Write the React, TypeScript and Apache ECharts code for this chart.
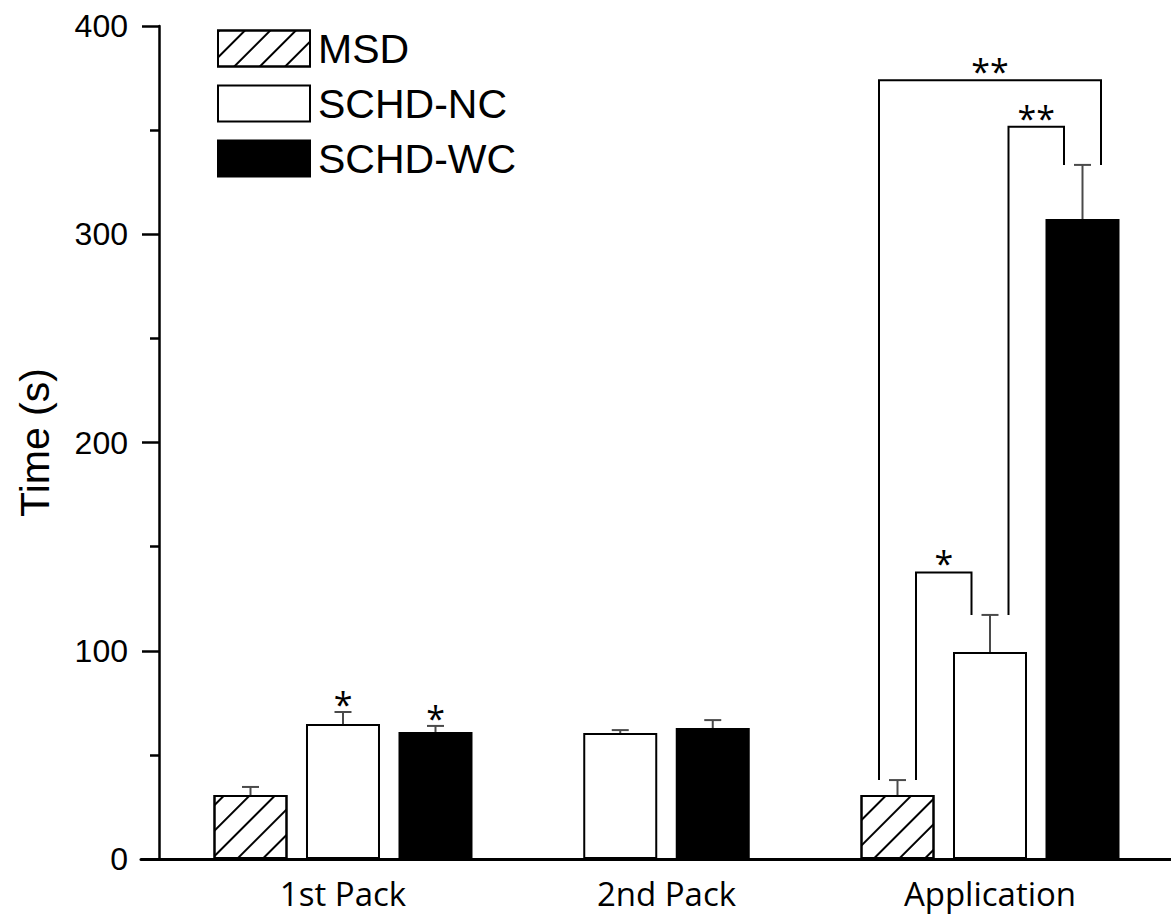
import React, { useEffect, useRef } from "react";
import * as echarts from "echarts";

// ---- data ----
const categories = ["1st Pack", "2nd Pack", "Application"];
const seriesNames = ["MSD", "SCHD-NC", "SCHD-WC"];

const msdMean: (number | null)[] = [30.7, null, 30.7];
const msdErr: (number | null)[] = [3.9, null, 7.2];
const ncMean: (number | null)[] = [64.8, 60.5, 99.4];
const ncErr: (number | null)[] = [5.8, 1.4, 17.8];
const wcMean: (number | null)[] = [61.0, 62.9, 307.3];
const wcErr: (number | null)[] = [2.9, 3.8, 26.0];

// significance marks drawn above individual bars (vs. MSD)
const msdMarks = ["", "", ""];
const ncMarks = ["*", "", ""];
const wcMarks = ["*", "", ""];

// bracket comparisons: group, from series, to series, bracket height (s), label, outer legs
const brackets = [
  { group: "Application", from: "MSD", to: "SCHD-WC", top: 374, label: "**", outer: true },
  { group: "Application", from: "SCHD-NC", to: "SCHD-WC", top: 351.6, label: "**", outer: false },
  { group: "Application", from: "MSD", to: "SCHD-NC", top: 137.6, label: "*", outer: false },
];

const yTicks = [0, 100, 200, 300, 400];

// ---- styling ----
const BAR_W = 74;
const GAP_RATIO = 0.25;
const PITCH = BAR_W * (1 + GAP_RATIO);
const LEG_OFF = PITCH * 0.2;
const X_MIN = 0.3756;
const X_MAX = 3.5595;
const STAR_FONT = '34px "Open Sans"';

const hatch = {
  symbol: "rect",
  symbolSize: 1,
  dashArrayX: [1, 0],
  dashArrayY: [1.6, 15.7],
  rotation: -Math.PI / 4,
  color: "#000",
};

const fills = [
  { color: "#fff", borderColor: "#000", borderWidth: 2, decal: hatch },
  { color: "#fff", borderColor: "#000", borderWidth: 2 },
  { color: "#000", borderColor: "#000", borderWidth: 2 },
];

const means = [msdMean, ncMean, wcMean];
const errs = [msdErr, ncErr, wcErr];
const marks = [msdMarks, ncMarks, wcMarks];

function presentIn(g: number) {
  const p: number[] = [];
  for (let s = 0; s < seriesNames.length; s++) if (means[s][g] != null) p.push(s);
  return p;
}
function offsetOf(g: number, s: number) {
  const p = presentIn(g);
  const k = p.indexOf(s);
  return (k - (p.length - 1) / 2) * PITCH;
}

export default function App() {
  const ref = useRef<HTMLDivElement>(null);
  useEffect(() => {
    if (!ref.current) return;
    const chart = echarts.init(ref.current, null, { renderer: "svg" });

    const series: any[] = [];
    // axis 0: groups with all series present; axis 1: groups with missing series
    for (let axis = 0; axis < 2; axis++) {
      for (let s = 0; s < seriesNames.length; s++) {
        const data: any[] = [];
        categories.forEach((_, g) => {
          const full = presentIn(g).length === seriesNames.length;
          if ((axis === 0) === full && means[s][g] != null) data.push([g + 1, means[s][g]]);
        });
        if (!data.length) continue;
        series.push({
          type: "bar",
          name: seriesNames[s],
          xAxisIndex: axis,
          yAxisIndex: 0,
          barWidth: BAR_W,
          barGap: GAP_RATIO * 100 + "%",
          itemStyle: fills[s],
          emphasis: { disabled: true },
          data,
          z: 2,
        });
      }
    }

    const errItems: any[] = [];
    categories.forEach((_, g) => {
      presentIn(g).forEach((s) => {
        errItems.push({ x: g + 1, mean: means[s][g], err: errs[s][g], off: offsetOf(g, s), mark: marks[s][g] });
      });
    });

    series.push({
      type: "custom",
      name: "err",
      xAxisIndex: 0,
      yAxisIndex: 0,
      z: 3,
      silent: true,
      data: errItems.map((e) => [e.x, e.mean, e.err]),
      encode: { x: 0, y: 1 },
      renderItem: (params: any, api: any) => {
        const e = errItems[params.dataIndex];
        const b = api.coord([e.x, e.mean]);
        const t = api.coord([e.x, e.mean + e.err]);
        const cx = b[0] + e.off;
        const children: any[] = [
          { type: "line", shape: { x1: cx, y1: b[1], x2: cx, y2: t[1] }, style: { stroke: "#4a4a4a", lineWidth: 2 } },
          { type: "line", shape: { x1: cx - 8.5, y1: t[1], x2: cx + 8.5, y2: t[1] }, style: { stroke: "#4a4a4a", lineWidth: 2 } },
        ];
        if (e.mark) {
          children.push({
            type: "text",
            style: { text: e.mark, x: cx, y: t[1] - 8, align: "center", verticalAlign: "middle", font: STAR_FONT, fill: "#000" },
          });
        }
        return { type: "group", children };
      },
    });

    series.push({
      type: "custom",
      name: "brackets",
      xAxisIndex: 0,
      yAxisIndex: 0,
      z: 4,
      silent: true,
      data: brackets.map((b) => [categories.indexOf(b.group) + 1, b.top]),
      encode: { x: 0, y: 1 },
      renderItem: (params: any, api: any) => {
        const br = brackets[params.dataIndex];
        const g = categories.indexOf(br.group);
        const fs = seriesNames.indexOf(br.from);
        const ts = seriesNames.indexOf(br.to);
        const gx = api.coord([g + 1, 0])[0];
        const sign = br.outer ? -1 : 1;
        const lx = gx + offsetOf(g, fs) + sign * LEG_OFF;
        const rx = gx + offsetOf(g, ts) - sign * LEG_OFF;
        const lb = api.coord([g + 1, (means[fs][g] as number) + (errs[fs][g] as number)])[1];
        const rb = api.coord([g + 1, (means[ts][g] as number) + (errs[ts][g] as number)])[1];
        const ty = api.coord([g + 1, br.top])[1];
        return {
          type: "group",
          children: [
            {
              type: "polyline",
              shape: { points: [[lx, lb], [lx, ty], [rx, ty], [rx, rb]] },
              style: { stroke: "#000", lineWidth: 2, fill: "none" },
            },
            {
              type: "text",
              style: { text: br.label, x: (lx + rx) / 2, y: ty - 9, align: "center", verticalAlign: "middle", font: STAR_FONT, fill: "#000" },
            },
          ],
        };
      },
    });

    const xBase = {
      type: "value",
      min: X_MIN,
      max: X_MAX,
      splitLine: { show: false },
      axisTick: { show: false },
    };

    chart.setOption({
      animation: false,
      textStyle: { fontFamily: "Liberation Sans" },
      grid: { left: 141, right: 0, top: 26, bottom: 56, containLabel: false, outerBoundsMode: "none" },
      legend: {
        orient: "vertical",
        left: 212,
        top: 23,
        itemWidth: 92,
        itemHeight: 36,
        itemGap: 14,
        icon: "rect",
        selectedMode: false,
        textStyle: { fontSize: 41, fontFamily: "Liberation Sans", color: "#000", padding: [0, 0, 0, 3] },
        data: seriesNames.map((n, i) => ({ name: n, itemStyle: fills[i] })),
      },
      xAxis: [
        {
          ...xBase,
          axisLine: { show: true, onZero: false, lineStyle: { color: "#000", width: 3 } },
          axisLabel: {
            customValues: [1, 2, 3],
            formatter: (v: number) => categories[Math.round(v) - 1] || "",
            fontSize: 33,
            fontFamily: "Open Sans",
            color: "#000",
            margin: 18,
          },
        },
        { ...xBase, show: false },
      ],
      yAxis: {
        type: "value",
        min: yTicks[0],
        max: yTicks[yTicks.length - 1],
        interval: yTicks[1] - yTicks[0],
        offset: -18,
        axisLine: { show: true, onZero: false, lineStyle: { color: "#000", width: 2.5 } },
        axisTick: { show: true, length: 17, lineStyle: { color: "#000", width: 2.5 } },
        minorTick: { show: true, splitNumber: 2, length: 9, lineStyle: { color: "#000", width: 2.5 } },
        splitLine: { show: false },
        minorSplitLine: { show: false },
        axisLabel: { fontSize: 32, fontFamily: "Liberation Sans", color: "#000", margin: 31 },
        name: "Time (s)",
        nameLocation: "middle",
        nameGap: 104,
        nameTextStyle: { fontSize: 41, fontFamily: "Liberation Sans", color: "#000" },
      },
      series,
    });
    return () => chart.dispose();
  }, []);
  return <div ref={ref} style={{ position: "fixed", left: 0, top: 0, width: 1171, height: 915, background: "#fff" }} />;
}
